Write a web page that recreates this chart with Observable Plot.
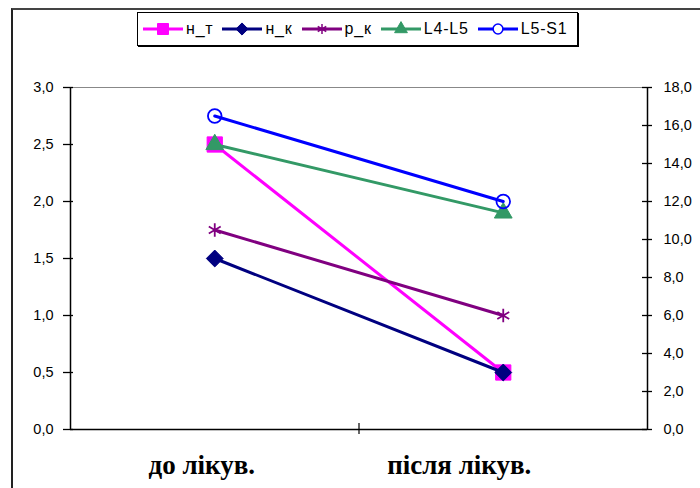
<!DOCTYPE html>
<html>
<head>
<meta charset="utf-8">
<script src="https://cdn.jsdelivr.net/npm/d3@7"></script>
<script src="https://cdn.jsdelivr.net/npm/@observablehq/plot@0.6"></script>
<style>
  html, body { margin: 0; padding: 0; background: #fff; }
  #wrap { position: relative; width: 700px; height: 488px; overflow: hidden; background: #fff; }
  #wrap svg.plot { position: absolute; left: 0; top: 0; }
  #frame { position: absolute; left: 11px; top: 8px; width: 700px; height: 500px;
           border-left: 2px solid #222; border-top: 2px solid #444; pointer-events: none; }
  #legend { position: absolute; left: 137px; top: 12px; width: 441px; height: 34px;
            border: 1px solid #000; box-shadow: 1px 1px 0 #000; background: #fff;
            display: flex; align-items: center; padding-left: 4px; box-sizing: border-box;
            font-family: "Liberation Sans", Arial, sans-serif; font-size: 16px; letter-spacing: 0.8px; color: #000; }
  .item { display: flex; align-items: center; margin-right: 8px; }
  .item span { margin-left: 2px; }
</style>
</head>
<body>
<div id="wrap"></div>
<script>
// ---- data ----
const categories = ["до лікув.", "після лікув."];
const seriesNames = ["н_т", "н_к", "р_к", "L4-L5", "L5-S1"];
const nT = [2.5, 0.5];      // left axis
const nK = [1.5, 0.5];      // left axis
const rK = [1.75, 1.0];     // left axis
const l4l5 = [15.0, 11.4];  // right axis
const l5s1 = [16.5, 12.0];  // right axis
const leftTicks = [0, 0.5, 1, 1.5, 2, 2.5, 3];
const rightTicks = [0, 2, 4, 6, 8, 10, 12, 14, 16, 18];
const seriesValues = [nT, nK, rK, l4l5, l5s1];
const seriesAxis = ["left", "left", "left", "right", "right"];

// ---- styles ----
const colors = ["#FF00FF", "#000080", "#800080", "#339966", "#0000FF"];
const symbols = ["square", "diamond2", "asterisk", "triangle", "circle"];
const radii = [8.6, 7.6, 6.5, 6.6, 6.8];
const filled = [true, true, false, true, false];
const ratio = rightTicks[rightTicks.length - 1] / leftTicks[leftTicks.length - 1];
const comma = v => v.toFixed(1).replace(".", ",");

const rows = seriesNames.map((name, s) =>
  seriesValues[s].map((v, i) => ({
    series: name, cat: categories[i], idx: i + 0.5,
    value: v, y: seriesAxis[s] === "right" ? v / ratio : v
  }))
);

const seriesMarks = rows.flatMap((data, s) => [
  Plot.line(data, {x: "idx", y: "y", stroke: colors[s], strokeWidth: 3}),
  Plot.dot(data, {
    x: "idx", y: "y", symbol: () => symbols[s], r: radii[s],
    fill: filled[s] ? colors[s] : "none", stroke: colors[s],
    strokeWidth: filled[s] ? 1 : 1.8
  })
]);

const labelShift = [-13, -44];

const chart = Plot.plot({
  width: 700, height: 488,
  marginLeft: 70, marginRight: 53, marginTop: 87, marginBottom: 59,
  x: {type: "linear", domain: [0, categories.length], axis: null},
  y: {type: "linear", domain: [0, 3]},
  symbol: {type: "identity"},
  style: {fontFamily: "'Liberation Sans', Arial, sans-serif", background: "transparent", color: "#000"},
  marks: [
    Plot.ruleY([3], {stroke: "#888", strokeWidth: 1.2}),
    Plot.ruleX([0, categories.length], {stroke: "#000", strokeWidth: 1.5}),
    Plot.ruleY([0], {stroke: "#000", strokeWidth: 1.5}),
    Plot.ruleY(leftTicks, {y: d => d, x1: 0, x2: 0, insetLeft: -7, insetRight: -3, stroke: "#000", strokeWidth: 1.3}),
    Plot.ruleY(rightTicks, {y: d => d / ratio, x1: categories.length, x2: categories.length, insetLeft: -5, insetRight: -5, stroke: "#000", strokeWidth: 1.3}),
    Plot.ruleX([1], {x: d => d, y1: 0, y2: 0, insetTop: -6, insetBottom: -5, stroke: "#000", strokeWidth: 1.2}),
    Plot.axisY(leftTicks, {anchor: "left", tickSize: 0, tickPadding: 17, tickFormat: comma, fontSize: 14.5, letterSpacing: 0.6, label: null}),
    Plot.axisY(rightTicks.map(v => v / ratio), {anchor: "right", tickSize: 0, tickPadding: 16, tickFormat: d => comma(d * ratio), fontSize: 14.5, letterSpacing: 0.6, label: null}),
    ...categories.map((c, i) => Plot.text([c], {
      x: () => i + 0.5, frameAnchor: "bottom", dy: 36, dx: labelShift[i],
      fontSize: 27, fontWeight: "bold", fontFamily: "'Liberation Serif', 'Times New Roman', serif",
      textAnchor: "middle", lineAnchor: "middle"
    })),
    ...seriesMarks
  ]
});

const wrap = document.getElementById("wrap");
wrap.appendChild(chart);
const frame = document.createElement("div");
frame.id = "frame";
wrap.appendChild(frame);

// ---- legend ----
const legend = document.createElement("div");
legend.id = "legend";
seriesNames.forEach((name, s) => {
  const item = document.createElement("div");
  item.className = "item";
  const sw = d3.create("svg").attr("width", 42).attr("height", 18);
  sw.append("line").attr("x1", 1).attr("x2", 41).attr("y1", 9).attr("y2", 9)
    .attr("stroke", colors[s]).attr("stroke-width", 3);
  const symMap = {square: d3.symbolSquare, diamond2: d3.symbolDiamond2, asterisk: d3.symbolAsterisk,
                  triangle: d3.symbolTriangle, circle: d3.symbolCircle};
  const size = Math.PI * Math.pow(radii[s] * 0.72, 2);
  sw.append("path").attr("transform", "translate(21,9)")
    .attr("d", d3.symbol(symMap[symbols[s]], size)())
    .attr("fill", filled[s] ? colors[s] : "white")
    .attr("stroke", colors[s]).attr("stroke-width", filled[s] ? 1 : 1.5);
  item.appendChild(sw.node());
  const sp = document.createElement("span");
  sp.textContent = name;
  item.appendChild(sp);
  legend.appendChild(item);
});
wrap.appendChild(legend);
</script>
</body>
</html>
